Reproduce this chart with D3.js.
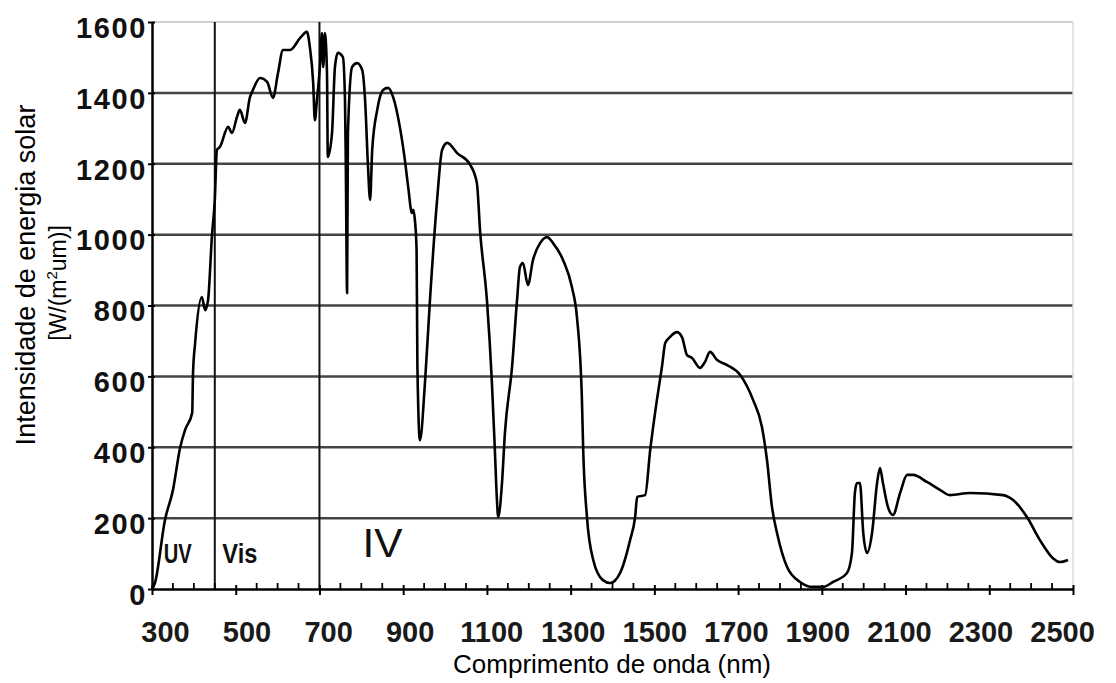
<!DOCTYPE html>
<html>
<head>
<meta charset="utf-8">
<script src="https://cdn.jsdelivr.net/npm/d3@7"></script>
<style>
  body { margin: 0; background: #fff; }
  svg { display: block; }
</style>
</head>
<body>
<svg width="1116" height="683"></svg>
<script>
// Solar spectrum (nm, W/(m²um))
const wavelengthNm = [300, 307, 331, 350, 367, 379, 396, 398, 403, 419, 427, 434, 443, 450, 455, 462, 482, 491, 503, 510,
    522, 534, 541, 558, 575, 589, 601, 613, 630, 654, 670, 677, 685, 689, 694, 701, 706, 709, 713, 718,
    720, 730, 737, 744, 756, 761, 763, 766, 768, 778, 790, 802, 809, 816, 821, 826, 838, 852, 864, 876,
    892, 904, 912, 921, 924, 928, 932, 934, 940, 952, 964, 981, 993, 1005, 1029, 1060, 1076, 1084, 1100, 1112,
    1119, 1124, 1127, 1136, 1143, 1160, 1172, 1179, 1186, 1198, 1210, 1227, 1244, 1258, 1282, 1303, 1315, 1327, 1330, 1339,
    1354, 1377, 1394, 1418, 1442, 1454, 1459, 1478, 1490, 1506, 1518, 1526, 1537, 1554, 1566, 1578, 1590, 1609, 1621, 1633,
    1650, 1674, 1705, 1736, 1757, 1769, 1781, 1793, 1817, 1848, 1879, 1903, 1927, 1960, 1972, 1979, 1984, 1991, 1999, 2008,
    2020, 2032, 2039, 2046, 2058, 2070, 2087, 2104, 2118, 2151, 2183, 2206, 2254, 2333, 2357, 2390, 2421, 2452, 2469, 2488];
const irradiance = [0, 17, 195, 279, 398, 449, 497, 610, 694, 824, 787, 816, 993, 1098, 1239, 1247, 1304, 1287, 1332, 1352,
    1315, 1388, 1408, 1442, 1431, 1386, 1456, 1521, 1521, 1555, 1572, 1530, 1428, 1323, 1380, 1473, 1569, 1473, 1569, 1456,
    1219, 1287, 1473, 1513, 1501, 1380, 1191, 835, 1287, 1473, 1484, 1465, 1380, 1191, 1098, 1239, 1352, 1408, 1414, 1388,
    1304, 1211, 1134, 1061, 1070, 1041, 957, 627, 420, 581, 816, 1098, 1239, 1259, 1230, 1197, 1146, 1005, 816, 581,
    392, 251, 203, 299, 440, 626, 816, 909, 920, 858, 928, 976, 993, 976, 928, 852, 768, 533, 392, 203,
    82, 25, 17, 45, 138, 203, 260, 265, 392, 533, 626, 694, 711, 725, 711, 660, 652, 624, 641, 669,
    646, 632, 604, 533, 457, 364, 231, 158, 62, 20, 6, 6, 20, 45, 102, 271, 299, 299, 158, 102,
    158, 299, 341, 299, 231, 209, 271, 322, 322, 302, 279, 265, 271, 265, 251, 203, 138, 87, 76, 82];

const yTicks = [0, 200, 400, 600, 800, 1000, 1200, 1400, 1600];
const xTicks = [300, 500, 700, 900, 1100, 1300, 1500, 1700, 1900, 2100, 2300, 2500];
const xMinorTicks = d3.range(300, 2501, 50).filter(v => !xTicks.includes(v));
const regionBounds = [450, 700];
const regionLabels = [
    {text: 'UV', nm: 328, value: 73, size: 27, bold: true, len: 28},
    {text: 'Vis', nm: 468, value: 73, size: 27, bold: true, len: 35},
    {text: 'IV', nm: 803, value: 90, size: 40, bold: false, len: 40}
];

const svg = d3.select('svg');
const x = d3.scaleLinear().domain([300, 2500]).range([152, 1073]);
const y = d3.scaleLinear().domain([0, 1600]).range([589, 22]);
// tick labels in the picture sit a little off their ticks
const xLabel = d3.scaleLinear().domain([300, 2500]).range([165, 1062]);

// horizontal grid
svg.append('g')
    .selectAll('line')
    .data(yTicks.filter(v => v > 0))
    .join('line')
    .attr('x1', x(300)).attr('x2', x(2500))
    .attr('y1', d => y(d)).attr('y2', d => y(d))
    .attr('stroke', d => d === 1600 ? '#cfcfcf' : '#444')
    .attr('stroke-width', d => d === 1600 ? 2 : 2.5);

// faint right border
svg.append('line')
    .attr('x1', x(2500)).attr('x2', x(2500))
    .attr('y1', y(1600)).attr('y2', y(0))
    .attr('stroke', '#dcdcdc').attr('stroke-width', 1.5);

// UV / Vis / IV separators
svg.append('g')
    .selectAll('line')
    .data(regionBounds)
    .join('line')
    .attr('x1', d => x(d)).attr('x2', d => x(d))
    .attr('y1', y(1600)).attr('y2', y(0))
    .attr('stroke', '#111').attr('stroke-width', 2);

// spectrum curve
const line = d3.line()
    .x((d, i) => x(wavelengthNm[i]))
    .y(d => y(d))
    .curve(d3.curveMonotoneX);
svg.append('path')
    .datum(irradiance)
    .attr('d', line)
    .attr('fill', 'none')
    .attr('stroke', '#000')
    .attr('stroke-width', 2.6)
    .attr('stroke-linejoin', 'round');

// y axis
const yAxis = svg.append('g')
    .attr('transform', `translate(${x(300)},0)`)
    .call(d3.axisLeft(y).tickValues(yTicks).tickSize(4).tickSizeOuter(0).tickFormat(d3.format('d')));
yAxis.select('.domain').attr('stroke', '#000').attr('stroke-width', 2.5);
yAxis.selectAll('.tick line').attr('stroke', '#000').attr('stroke-width', 2).attr('x2', -4).attr('x1', 3);
yAxis.selectAll('.tick text')
    .attr('x', -5)
    .attr('y', 6)
    .attr('fill', '#111')
    .style('font-family', '"Liberation Sans", Arial, sans-serif')
    .style('font-weight', 'bold')
    .style('font-size', '29px')
    .style('letter-spacing', '1.6px');

// x axis, major ticks outward, minor inward
const xAxis = svg.append('g')
    .attr('transform', `translate(0,${y(0)})`)
    .call(d3.axisBottom(x).tickValues(xTicks).tickSize(6).tickSizeOuter(0).tickFormat(d3.format('d')));
xAxis.select('.domain').attr('stroke', '#000').attr('stroke-width', 2.5);
xAxis.selectAll('.tick line').attr('stroke', '#000').attr('stroke-width', 2).attr('y1', -4);
xAxis.selectAll('.tick text')
    .attr('x', d => xLabel(d) - x(d))
    .attr('y', 32)
    .attr('dy', '0.71em')
    .attr('fill', '#1a1a1a')
    .style('font-family', '"Liberation Sans", Arial, sans-serif')
    .style('font-weight', 'bold')
    .style('font-size', '29px');

svg.append('g')
    .selectAll('line')
    .data(xMinorTicks)
    .join('line')
    .attr('x1', d => x(d)).attr('x2', d => x(d))
    .attr('y1', y(0)).attr('y2', y(0) - 6)
    .attr('stroke', '#000').attr('stroke-width', 1.8);

// region labels (condensed look via textLength)
svg.append('g')
    .selectAll('text')
    .data(regionLabels)
    .join('text')
    .attr('x', d => x(d.nm))
    .attr('y', d => y(d.value))
    .attr('textLength', d => d.len)
    .attr('lengthAdjust', 'spacingAndGlyphs')
    .text(d => d.text)
    .attr('fill', '#111')
    .style('font-family', '"Liberation Sans", Arial, sans-serif')
    .style('font-weight', d => d.bold ? 'bold' : 'normal')
    .style('font-size', d => d.size + 'px');

// axis titles
svg.append('text')
    .attr('x', 612).attr('y', 673)
    .attr('text-anchor', 'middle')
    .attr('fill', '#000')
    .style('font-family', '"Liberation Sans", Arial, sans-serif')
    .style('font-size', '26px')
    .text('Comprimento de onda (nm)');

svg.append('text')
    .attr('transform', 'translate(35,275) rotate(-90)')
    .attr('text-anchor', 'middle')
    .attr('fill', '#000')
    .style('font-family', '"Liberation Sans", Arial, sans-serif')
    .style('font-size', '27px')
    .text('Intensidade de energia solar');

const yUnit = svg.append('text')
    .attr('transform', 'translate(66,283) rotate(-90)')
    .attr('text-anchor', 'middle')
    .attr('fill', '#000')
    .style('font-family', '"Liberation Sans", Arial, sans-serif')
    .style('font-size', '23px');
yUnit.append('tspan').text('[W/(m');
yUnit.append('tspan').attr('dy', -9).style('font-size', '15px').text('2');
yUnit.append('tspan').attr('dy', 9).text('um)]');
</script>
</body>
</html>
